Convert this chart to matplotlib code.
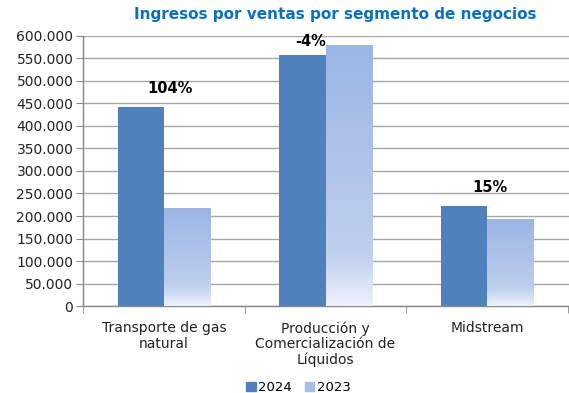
import numpy as np
import matplotlib
matplotlib.use("Agg")
import matplotlib.pyplot as plt
from matplotlib.colors import LinearSegmentedColormap
from matplotlib.ticker import FuncFormatter, FixedLocator

# Revenue by business segment (thousands)
categories = ["Transporte de gas\nnatural",
              "Producción y\nComercialización de\nLíquidos",
              "Midstream"]
series_labels = ["2024", "2023"]
values_2024 = [442000, 558000, 222000]
values_2023 = [217000, 580000, 193000]
y_ticks = list(range(0, 600001, 50000))

title = "Ingresos por ventas por segmento de negocios"

c2024 = "#4F81BD"
grad = LinearSegmentedColormap.from_list(
    "g2023", [(0.0, "#9BB5E4"), (0.8, "#BFCFEE"), (1.0, "#EEF2FB")])

fig = plt.figure(figsize=(5.69, 3.93), dpi=100)
ax = fig.add_axes([0.146, 0.221, 0.855, 0.688])

x = np.arange(len(categories))
w = 0.2857
ax.bar(x - w / 2, values_2024, width=w, color=c2024, zorder=3, label=series_labels[0])
bars23 = ax.bar(x + w / 2, values_2023, width=w, color="#A7BDE8", zorder=3,
                label=series_labels[1])

# vertical gradient inside each 2023 bar
g = np.linspace(0, 1, 256).reshape(-1, 1)
for b in bars23:
    x0, y0 = b.get_x(), b.get_y()
    x1, y1 = x0 + b.get_width(), y0 + b.get_height()
    im = ax.imshow(g, cmap=grad, extent=[x0, x1, y0, y1], origin="upper",
                   aspect="auto", zorder=3.5, interpolation="bilinear")
    im.set_clip_path(b)

ax.set_xlim(-0.5, len(categories) - 0.5 + 0.01)
ax.set_ylim(0, 600000)
ax.set_aspect("auto")

ax.yaxis.set_major_locator(FixedLocator(y_ticks))
ax.yaxis.set_major_formatter(FuncFormatter(lambda v, p: f"{int(v):,}".replace(",", ".")))
ax.grid(axis="y", color="#A6A6A6", linewidth=1.0, zorder=0)
ax.set_axisbelow(True)

ax.set_xticks(x)
ax.set_xticklabels(categories, fontsize=10, color="#222222", linespacing=1.1)
ax.tick_params(axis="x", length=0, pad=11)
ax.set_xticks(np.arange(len(categories) + 1) - 0.5, minor=True)
ax.tick_params(axis="x", which="minor", length=5, color="#888888")
ax.tick_params(axis="y", labelsize=10, labelcolor="#222222", length=5,
               color="#888888", pad=2)

for s in ["top", "right"]:
    ax.spines[s].set_visible(False)
for s in ["left", "bottom"]:
    ax.spines[s].set_color("#888888")
    ax.spines[s].set_linewidth(1.0)

# year-over-year change labels
label_y = [484000, 587000, 264000]
label_dx = [0.04, -0.09, 0.02]
for i, (a, b) in enumerate(zip(values_2024, values_2023)):
    pct = round((a / b - 1) * 100)
    ax.text(x[i] + label_dx[i], label_y[i], f"{pct}%", ha="center", va="center",
            fontsize=10.5, fontweight="bold", color="black", zorder=5)

fig.text(0.59, 0.962, title, ha="center", va="center", fontsize=11,
         fontweight="bold", color="#0A70C0")

fig.legend(handles=[plt.Rectangle((0, 0), 1, 1, color=c2024),
                    plt.Rectangle((0, 0), 1, 1, color="#A7BDE8")],
           labels=series_labels, loc="center", bbox_to_anchor=(0.525, 0.013),
           ncol=2, frameon=False, fontsize=9.5, handlelength=0.7, handleheight=0.7,
           handletextpad=0.2, columnspacing=1.0, borderaxespad=0)

fig.savefig("out.png", dpi=100)
